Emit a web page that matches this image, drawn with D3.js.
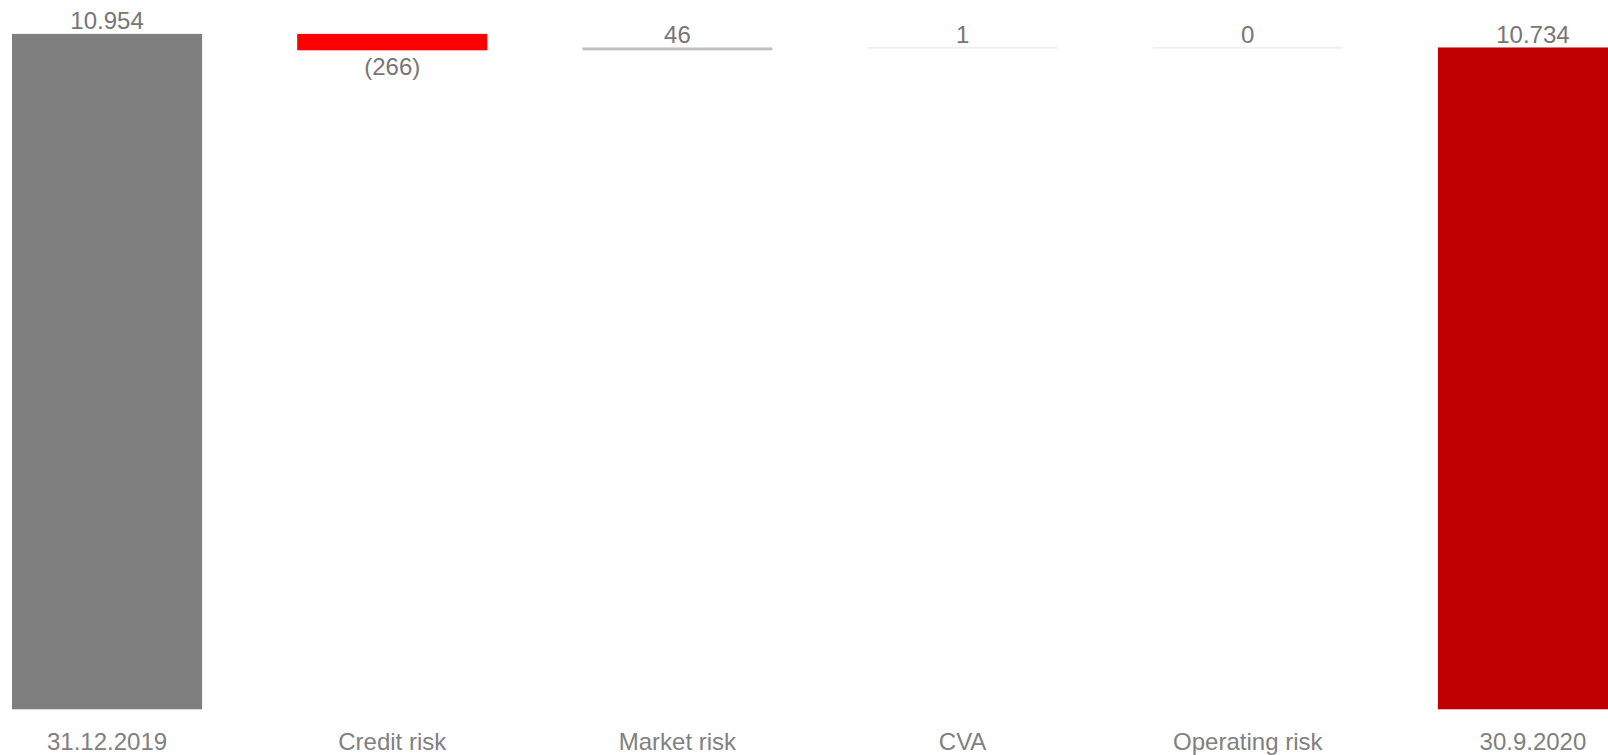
<!DOCTYPE html>
<html>
<head>
<meta charset="utf-8">
<script src="https://cdn.jsdelivr.net/npm/d3@7"></script>
<style>
  html, body { margin: 0; padding: 0; background: #ffffff; overflow: hidden; }
  svg { display: block; }
  text { font-family: "Liberation Sans", Arial, sans-serif; }
</style>
</head>
<body>
<svg id="chart" width="1608" height="755"></svg>
<script>
// Risk-weighted asset bridge: opening total, changes by risk type, closing total
const categories = ["31.12.2019", "Credit risk", "Market risk", "CVA", "Operating risk", "30.9.2020"];
const kinds      = ["total", "delta", "delta", "delta", "delta", "total"];
const values     = [10954, -266, 46, 1, 0, 10734];
const valueLabels = ["10.954", "(266)", "46", "1", "0", "10.734"];

const width = 1608, height = 755;
const svg = d3.select("#chart");

// Stack each change on the running total
let running = 0;
const bars = categories.map((c, i) => {
  let start, end;
  if (kinds[i] === "total") { start = 0; end = values[i]; running = values[i]; }
  else { start = running; end = running + values[i]; running = end; }
  return { cat: c, kind: kinds[i], value: values[i], label: valueLabels[i], start, end };
});

const x = d3.scaleBand()
  .domain(categories)
  .range([12, 1628])
  .paddingInner(1 / 3)
  .paddingOuter(0);

const y = d3.scaleLinear()
  .domain([0, 10954])
  .range([709.3, 33.9]);

function barColor(d, i) {
  if (d.kind === "total") return i === 0 ? "#7f7f7f" : "#c00000";
  return d.value < 0 ? "#ff0000" : "#bfbfbf";
}

const g = svg.append("g");

g.selectAll("rect.bar")
  .data(bars)
  .join("rect")
  .attr("class", "bar")
  .attr("x", d => x(d.cat))
  .attr("width", x.bandwidth())
  .attr("y", d => Math.min(y(d.start), y(d.end)))
  .attr("height", d => Math.max(Math.abs(y(d.start) - y(d.end)), 1))
  .attr("fill", (d, i) => barColor(d, i))
  .attr("fill-opacity", d => Math.abs(y(d.start) - y(d.end)) < 1 ? 0.4 : 1);

// Value labels: above the bar for totals and increases, below for decreases
g.selectAll("text.value")
  .data(bars)
  .join("text")
  .attr("class", "value")
  .attr("x", d => x(d.cat) + x.bandwidth() / 2)
  .attr("y", d => d.value < 0
    ? Math.max(y(d.start), y(d.end)) + 25
    : Math.min(y(d.start), y(d.end)) - 4.8)
  .attr("text-anchor", "middle")
  .attr("font-size", 24)
  .attr("fill", "#767676")
  .text(d => d.label);

// Category axis along the bottom
const axis = d3.axisBottom(x).tickSize(0).tickPadding(24);
const ax = svg.append("g")
  .attr("transform", `translate(0,${y(0)})`)
  .call(axis);
ax.select(".domain").remove();
ax.selectAll("text")
  .attr("font-size", 24)
  .attr("font-family", "'Liberation Sans', Arial, sans-serif")
  .attr("fill", "#808080");
</script>
</body>
</html>
